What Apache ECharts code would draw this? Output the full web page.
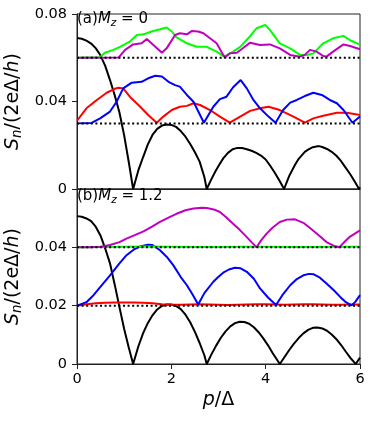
<!DOCTYPE html>
<html><head><meta charset="utf-8">
<script src="https://cdn.jsdelivr.net/npm/echarts@6/dist/echarts.min.js"></script>
<style>html,body{margin:0;padding:0;background:#fff}#c{width:374px;height:422px}</style>
</head><body><div id="c"></div>
<script>
// ---- data (x = p/Δ, y = S_n/(2eΔ/h)) ----
const xTicks = [0, 2, 4, 6];
const topYTicks = [0, 0.04, 0.08];
const botYTicks = [0, 0.02, 0.04];
const topBaselines = [0.03, 0.06];
const botBaselines = [0.02, 0.04];

const topBlack = [[0,0.069],[0.1,0.0687],[0.2,0.0678],[0.3,0.0665],[0.4,0.0643],[0.5,0.061],[0.6,0.0562],[0.7,0.0498],[0.8,0.0428],[0.9,0.035],[1.0,0.0245],[1.1,0.012],[1.19,0],
 [1.3,0.0085],[1.4,0.0145],[1.5,0.0203],[1.6,0.0247],[1.7,0.0275],[1.8,0.029],[1.9,0.0295],[2.0,0.0293],[2.1,0.0284],[2.2,0.0265],[2.3,0.0239],[2.4,0.0206],[2.5,0.0168],[2.6,0.0125],[2.7,0.0055],[2.75,0],
 [2.85,0.0045],[2.93,0.0079],[3.0,0.0105],[3.1,0.014],[3.2,0.0165],[3.3,0.0182],[3.4,0.0188],[3.5,0.0187],[3.6,0.0182],[3.7,0.0175],[3.8,0.0165],[3.9,0.0153],[4.0,0.0135],[4.1,0.0105],[4.2,0.0072],[4.3,0.0035],[4.39,0],
 [4.5,0.006],[4.62,0.011],[4.7,0.0138],[4.83,0.017],[4.9,0.018],[5.0,0.0191],[5.1,0.0195],[5.15,0.0195],[5.2,0.0192],[5.3,0.0183],[5.4,0.017],[5.5,0.0152],[5.6,0.0127],[5.68,0.0102],[5.8,0.0065],[5.9,0.003],[5.98,0],[6.0,0.0008]];
const topRed = [[0,0.0312],[0.2,0.0369],[0.42,0.0407],[0.63,0.044],[0.8,0.0458],[0.88,0.0463],[0.98,0.046],[1.12,0.0422],[1.34,0.0376],[1.51,0.0338],[1.69,0.0303],[1.83,0.0331],[2.01,0.0361],[2.18,0.0376],[2.33,0.038],[2.47,0.0392],[2.61,0.0384],[2.82,0.0361],[3.03,0.0331],[3.24,0.0303],[3.46,0.0331],[3.67,0.0357],[3.88,0.0369],[4.06,0.0376],[4.3,0.0361],[4.59,0.0331],[4.83,0.0303],[5.01,0.0323],[5.22,0.0335],[5.51,0.0349],[5.72,0.0349],[6.0,0.0338]];
const topBlue = [[0,0.03],[0.31,0.0302],[0.49,0.0323],[0.7,0.0354],[0.84,0.0399],[0.98,0.046],[1.16,0.0486],[1.37,0.049],[1.51,0.0506],[1.66,0.0518],[1.8,0.0514],[1.94,0.049],[2.08,0.0475],[2.18,0.0468],[2.33,0.043],[2.47,0.0399],[2.69,0.0303],[2.89,0.0376],[3.03,0.0411],[3.17,0.0422],[3.31,0.0465],[3.47,0.0498],[3.6,0.046],[3.74,0.0407],[3.88,0.0369],[4.06,0.0331],[4.21,0.0303],[4.37,0.0361],[4.52,0.0395],[4.66,0.0407],[4.83,0.0425],[5.01,0.044],[5.19,0.043],[5.36,0.0407],[5.51,0.0392],[5.65,0.0361],[5.84,0.0303],[6.0,0.0331]];
const topGreen = [[0,0.06],[0.49,0.0602],[0.59,0.0623],[0.77,0.0636],[0.91,0.065],[1.12,0.0674],[1.27,0.0704],[1.41,0.0707],[1.58,0.072],[1.76,0.073],[1.9,0.0738],[2.01,0.072],[2.11,0.0693],[2.33,0.0666],[2.54,0.065],[2.75,0.065],[2.96,0.0628],[3.12,0.0605],[3.31,0.0628],[3.46,0.065],[3.63,0.0689],[3.81,0.0735],[3.99,0.075],[4.09,0.0727],[4.3,0.0666],[4.52,0.0643],[4.73,0.0613],[4.87,0.0613],[5.01,0.062],[5.22,0.0666],[5.43,0.0689],[5.65,0.07],[5.79,0.068],[6.0,0.066]];
const topMagenta = [[0,0.06],[0.88,0.0601],[1.02,0.0636],[1.19,0.0661],[1.37,0.0666],[1.48,0.0686],[1.62,0.0658],[1.8,0.0623],[1.9,0.0643],[2.08,0.0704],[2.18,0.0712],[2.33,0.0707],[2.43,0.0722],[2.57,0.072],[2.68,0.0712],[2.82,0.0689],[2.96,0.0666],[3.1,0.0613],[3.14,0.0602],[3.24,0.062],[3.39,0.0623],[3.53,0.0646],[3.67,0.0669],[3.88,0.0658],[4.09,0.0661],[4.3,0.0643],[4.52,0.0613],[4.73,0.0605],[4.83,0.0613],[4.94,0.0636],[5.08,0.0628],[5.22,0.0608],[5.29,0.0605],[5.43,0.0628],[5.65,0.0661],[5.79,0.0654],[6.0,0.0639]];

const botBlack = [[0,0.0507],[0.1,0.0505],[0.2,0.0499],[0.3,0.049],[0.4,0.047],[0.5,0.044],[0.6,0.0395],[0.7,0.0345],[0.8,0.0272],[0.9,0.0195],[1.0,0.012],[1.1,0.0055],[1.19,0],
 [1.3,0.006],[1.4,0.0105],[1.5,0.014],[1.6,0.0167],[1.7,0.0187],[1.8,0.0199],[1.9,0.0204],[2.0,0.0204],[2.1,0.0199],[2.2,0.0188],[2.3,0.0169],[2.4,0.0143],[2.5,0.011],[2.6,0.0072],[2.7,0.003],[2.75,0],
 [2.85,0.0033],[2.95,0.0063],[3.05,0.009],[3.15,0.0112],[3.25,0.0129],[3.35,0.014],[3.45,0.0145],[3.55,0.0144],[3.65,0.0138],[3.75,0.0126],[3.85,0.0109],[3.95,0.0088],[4.05,0.0064],[4.15,0.0037],[4.3,0],
 [4.4,0.0024],[4.5,0.0048],[4.6,0.007],[4.7,0.0089],[4.8,0.0105],[4.9,0.0117],[5.0,0.0124],[5.1,0.0125],[5.2,0.0122],[5.3,0.0114],[5.4,0.0101],[5.5,0.0085],[5.6,0.0065],[5.7,0.0042],[5.8,0.002],[5.91,0],[6.0,0.0022]];
const botRed = [[0,0.02],[0.2,0.0205],[0.4,0.0208],[0.6,0.021],[0.8,0.0211],[1.0,0.0211],[1.2,0.0211],[1.4,0.021],[1.6,0.0208],[1.8,0.0205],[2.0,0.0203],[2.2,0.0203],[2.4,0.0204],[2.6,0.0205],[2.8,0.0204],[3.0,0.0203],[3.2,0.0202],[3.4,0.0203],[3.6,0.0204],[3.8,0.0205],[4.0,0.0205],[4.2,0.0204],[4.4,0.0203],[4.6,0.0204],[4.8,0.0205],[5.0,0.0205],[5.2,0.0204],[5.4,0.0203],[5.6,0.0203],[5.8,0.0204],[6.0,0.0204]];
const botBlue = [[0,0.02],[0.2,0.0212],[0.35,0.0236],[0.5,0.0265],[0.7,0.0304],[0.9,0.0345],[1.05,0.0373],[1.2,0.0392],[1.34,0.0403],[1.5,0.0409],[1.6,0.0408],[1.76,0.039],[1.9,0.0368],[2.04,0.0339],[2.2,0.0298],[2.33,0.027],[2.45,0.0238],[2.57,0.0204],[2.7,0.0243],[2.89,0.0282],[3.0,0.0299],[3.1,0.0313],[3.22,0.0324],[3.35,0.033],[3.47,0.0328],[3.6,0.0316],[3.75,0.0292],[3.88,0.0259],[4.05,0.0228],[4.22,0.0202],[4.35,0.0235],[4.52,0.027],[4.65,0.029],[4.8,0.0304],[4.92,0.0309],[5.01,0.0308],[5.15,0.0296],[5.29,0.0276],[5.45,0.0252],[5.58,0.023],[5.7,0.0212],[5.82,0.0201],[5.9,0.0213],[6.0,0.0236]];
const botGreen = [[0,0.04],[0.5,0.0401],[1.0,0.0402],[1.5,0.0403],[2.0,0.0402],[2.5,0.0401],[3.0,0.0401],[3.5,0.0402],[4.0,0.0402],[4.5,0.0401],[5.0,0.0401],[5.5,0.0402],[6.0,0.0402]];
const botMagenta = [[0,0.04],[0.3,0.04],[0.5,0.0402],[0.7,0.0408],[0.9,0.0418],[1.05,0.043],[1.2,0.044],[1.41,0.0455],[1.6,0.0472],[1.76,0.0487],[1.95,0.0503],[2.11,0.0515],[2.3,0.0527],[2.47,0.0533],[2.65,0.0536],[2.75,0.0535],[2.9,0.053],[3.03,0.0521],[3.15,0.0505],[3.31,0.0481],[3.45,0.046],[3.6,0.0435],[3.7,0.0418],[3.81,0.04],[3.9,0.0423],[4.02,0.0447],[4.15,0.0468],[4.3,0.0487],[4.45,0.0495],[4.62,0.0496],[4.8,0.0484],[4.94,0.0466],[5.1,0.0445],[5.29,0.0418],[5.45,0.0405],[5.56,0.04],[5.68,0.042],[5.79,0.0437],[5.9,0.0448],[6.0,0.0458]];

const panelLabels = ['(a){i|M}{sub|z}{n| = 0}', '(b){i|M}{sub|z}{n| = 1.2}'];
const yName = '{i|S}{sub|n}/(2eΔ/{i|h})';
const xName = '{i|p}/Δ';

// ---- chart ----
const FONT = 'DejaVu Sans';
function rich(size) {
  return {
    i: {fontStyle: 'italic', fontFamily: FONT, fontSize: size, color: '#000'},
    sub: {fontStyle: 'italic', fontFamily: FONT, fontSize: size * 0.7, color: '#000', padding: [Math.round(size * 0.45), 0, 0, 0]},
    n: {fontFamily: FONT, fontSize: size, color: '#000'}
  };
}
const frameColor = '#222';
function line(data, color, xi, yi, z) {
  return {type: 'line', data, xAxisIndex: xi, yAxisIndex: yi, showSymbol: false, symbol: 'none',
    lineStyle: {color, width: 2}, z: z || 2, animation: false, silent: true};
}
function dotted(y, xi, yi) {
  return {type: 'line', data: [[0, y], [6, y]], xAxisIndex: xi, yAxisIndex: yi, symbol: 'none',
    lineStyle: {color: '#000', width: 2, type: [2, 2.6]}, z: 10, animation: false, silent: true};
}
function yAxis(gi, max, interval, hideTop) {
  return {type: 'value', gridIndex: gi, min: 0, max, interval,
    axisLine: {show: true, lineStyle: {color: frameColor, width: 1}},
    axisTick: {show: true, length: 5, lineStyle: {color: frameColor}},
    splitLine: {show: false},
    axisLabel: {fontFamily: FONT, fontSize: 14.5, color: '#000', margin: 10,
      formatter: v => (hideTop && Math.abs(v - max) < 1e-9) ? '' : (v === 0 ? '0' : String(+v.toFixed(2)))},
    name: yName, nameLocation: 'middle', nameGap: 42, nameRotate: 90,
    nameTextStyle: {fontFamily: FONT, fontSize: 19, color: '#000', rich: rich(19)}};
}
const gridBase = {left: 77, right: 14, height: 175, show: true, borderColor: frameColor, borderWidth: 1,
  backgroundColor: 'transparent', containLabel: false, outerBoundsMode: 'none'};
const chart = echarts.init(document.getElementById('c'), null, {renderer: 'canvas'});
chart.setOption({
  backgroundColor: '#fff',
  animation: false,
  grid: [Object.assign({top: 14}, gridBase), Object.assign({top: 189}, gridBase)],
  xAxis: [
    {type: 'value', gridIndex: 0, min: 0, max: 6, interval: 2,
      axisLine: {show: true, lineStyle: {color: frameColor}}, axisTick: {show: false}, axisLabel: {show: false}, splitLine: {show: false}},
    {type: 'value', gridIndex: 1, min: 0, max: 6, interval: 2,
      axisLine: {show: true, lineStyle: {color: frameColor}},
      axisTick: {show: true, length: 5, lineStyle: {color: frameColor}},
      axisLabel: {fontFamily: FONT, fontSize: 14.5, color: '#000', margin: 8, formatter: v => String(v)},
      splitLine: {show: false},
      name: xName, nameLocation: 'middle', nameGap: 27,
      nameTextStyle: {fontFamily: FONT, fontSize: 19, color: '#000', rich: {i: {fontStyle: 'italic', fontFamily: FONT, fontSize: 19, color: '#000'}}}}
  ],
  yAxis: [yAxis(0, 0.08, 0.04, false), yAxis(1, 0.06, 0.02, true)],
  series: [
    line(topBlack, '#000000', 0, 0), line(topRed, '#ff0000', 0, 0), line(topBlue, '#0000ff', 0, 0),
    line(topGreen, '#00ff00', 0, 0), line(topMagenta, '#bf00bf', 0, 0),
    dotted(topBaselines[0], 0, 0), dotted(topBaselines[1], 0, 0),
    line(botBlack, '#000000', 1, 1), line(botRed, '#ff0000', 1, 1), line(botBlue, '#0000ff', 1, 1),
    line(botGreen, '#00ff00', 1, 1), line(botMagenta, '#bf00bf', 1, 1),
    dotted(botBaselines[0], 1, 1), dotted(botBaselines[1], 1, 1)
  ],
  graphic: [
    {type: 'text', left: 77, top: 12, z: 20, style: {text: panelLabels[0], fontFamily: FONT, fontSize: 15, fill: '#000', rich: rich(15)}},
    {type: 'text', left: 77, top: 189, z: 20, style: {text: panelLabels[1], fontFamily: FONT, fontSize: 15, fill: '#000', rich: rich(15)}}
  ]
});
</script></body></html>
